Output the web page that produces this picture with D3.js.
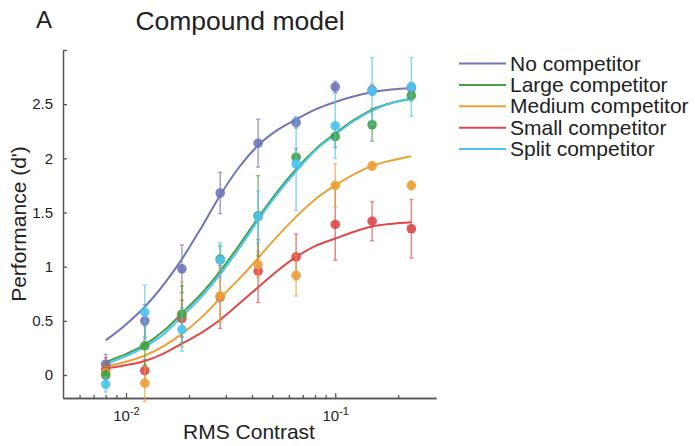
<!DOCTYPE html>
<html>
<head>
<meta charset="utf-8">
<script src="https://cdn.jsdelivr.net/npm/d3@7"></script>
<style>
  body { margin: 0; background: #fff; }
  svg text { font-family: "Liberation Sans", Arial, Helvetica, sans-serif; fill: #222; }
</style>
</head>
<body>
<svg id="chart" width="695" height="446"></svg>
<script>
// ---- data ----
const contrasts = [0.008, 0.0123, 0.0185, 0.0282, 0.0428, 0.065, 0.1, 0.15, 0.231];
const curveContrasts = [0.008, 0.0099, 0.0123, 0.0152, 0.0185, 0.0229, 0.0282, 0.0348, 0.0428,
                        0.0528, 0.065, 0.080, 0.1, 0.122, 0.15, 0.185, 0.231];

const seriesNames = ["No competitor", "Large competitor", "Medium competitor", "Small competitor", "Split competitor"];
const seriesColors = ["#7074b8", "#44a044", "#eba035", "#de4848", "#4ec3ef"];

// mean d' per contrast
const noMean     = [0.10, 0.50, 0.98, 1.68, 2.14, 2.33, 2.66, 2.63, 2.65];
const largeMean  = [0.00, 0.27, 0.56, 1.07, 1.47, 2.01, 2.20, 2.31, 2.58];
const mediumMean = [0.02, -0.075, 0.56, 0.73, 1.02, 0.92, 1.75, 1.93, 1.75];
const smallMean  = [0.05, 0.04, 0.52, 0.72, 0.96, 1.09, 1.39, 1.42, 1.35];
const splitMean  = [-0.086, 0.58, 0.42, 1.06, 1.46, 1.95, 2.30, 2.62, 2.66];

// error bar half lengths
const noErr     = [0.09, 0.15, 0.22, 0.19, 0.22, 0.05, 0.05, 0.05, 0.05];
const largeErr  = [0.10, 0.18, 0.26, 0.12, 0.37, 0.08, 0.10, 0.15, 0.05];
const mediumErr = [0.06, 0.17, 0.30, 0.24, 0.12, 0.19, 0.20, 0.04, 0.04];
const smallErr  = [0.11, 0.10, 0.17, 0.29, 0.29, 0.21, 0.33, 0.18, 0.27];
const splitErr  = [0.07, 0.25, 0.20, 0.16, 0.24, 0.43, 0.30, 0.31, 0.27];

// model fit curves
const noFit     = [0.32, 0.46, 0.63, 0.84, 1.07, 1.36, 1.66, 1.92, 2.12, 2.26, 2.36, 2.45, 2.52, 2.57, 2.61, 2.635, 2.65];
const largeFit  = [0.12, 0.19, 0.28, 0.41, 0.57, 0.75, 0.96, 1.20, 1.45, 1.69, 1.90, 2.08, 2.23, 2.35, 2.45, 2.51, 2.55];
const mediumFit = [0.08, 0.12, 0.18, 0.27, 0.38, 0.53, 0.71, 0.89, 1.08, 1.28, 1.46, 1.62, 1.75, 1.85, 1.93, 1.98, 2.02];
const smallFit  = [0.06, 0.09, 0.13, 0.20, 0.29, 0.39, 0.51, 0.66, 0.81, 0.96, 1.09, 1.19, 1.26, 1.32, 1.37, 1.395, 1.41];
const splitFit  = [0.10, 0.17, 0.26, 0.38, 0.54, 0.72, 0.93, 1.17, 1.43, 1.67, 1.88, 2.07, 2.22, 2.34, 2.44, 2.51, 2.55];

const yTicks = [0, 0.5, 1, 1.5, 2, 2.5, 3];
const xMajorTicks = [0.01, 0.1];
const xMinorTicks = [0.006, 0.007, 0.008, 0.009, 0.02, 0.03, 0.04, 0.05, 0.06, 0.07, 0.08, 0.09, 0.2];

const means = [noMean, largeMean, mediumMean, smallMean, splitMean];
const errs  = [noErr, largeErr, mediumErr, smallErr, splitErr];
const fits  = [noFit, largeFit, mediumFit, smallFit, splitFit];
const markerOrder = [0, 3, 2, 1, 4];   // which series lands on top where points overlap

// ---- drawing ----
const svg = d3.select("#chart");
const axisColor = "#555";

const x = d3.scaleLog().domain([0.005, 0.303]).range([63, 436]);
const y = d3.scaleLinear().domain([-0.212, 3]).range([398, 50]);

// titles
svg.append("text").attr("x", 36).attr("y", 28).attr("font-size", 24).text("A");
svg.append("text").attr("x", 240).attr("y", 30).attr("font-size", 26.5)
   .attr("text-anchor", "middle").text("Compound model");

// axes
const yAxis = svg.append("g").attr("transform", "translate(63,0)")
  .call(d3.axisLeft(y).tickValues(yTicks).tickSizeInner(-4).tickSizeOuter(0).tickPadding(10)
        .tickFormat(d => d === 3 ? "" : String(d)));
yAxis.selectAll("text").attr("font-size", 15);

const xMinor = svg.append("g").attr("transform", "translate(0,398)")
  .call(d3.axisBottom(x).tickValues(xMinorTicks).tickSizeInner(-3).tickSizeOuter(0).tickFormat(""));
const xAxis = svg.append("g").attr("transform", "translate(0,398)")
  .call(d3.axisBottom(x).tickValues(xMajorTicks).tickSizeInner(-5).tickSizeOuter(0).tickPadding(12)
        .tickFormat(""));
xAxis.selectAll(".tick text").each(function(d) {
  const t = d3.select(this).attr("font-size", 15).attr("text-anchor", "middle");
  t.append("tspan").text("10");
  t.append("tspan").attr("dy", -6).attr("font-size", 11).text(Math.round(Math.log10(d)));
});

[yAxis, xMinor, xAxis].forEach(g => {
  g.selectAll("path, line").attr("stroke", axisColor).attr("stroke-width", 1.3);
  g.select(".domain").attr("stroke-width", 1.5);
  g.selectAll("text").attr("fill", "#222");
});

svg.append("text").attr("x", 249).attr("y", 439).attr("font-size", 21)
   .attr("text-anchor", "middle").text("RMS Contrast");
svg.append("text").attr("transform", "translate(26,224) rotate(-90)").attr("font-size", 21)
   .attr("text-anchor", "middle").text("Performance (d')");

// fit curves
const line = d3.line().x((d, i) => x(curveContrasts[i])).y(d => y(d)).curve(d3.curveMonotoneX);
const curves = svg.append("g");
fits.forEach((f, s) => {
  curves.append("path").attr("d", line(f)).attr("fill", "none")
    .attr("stroke", seriesColors[s]).attr("stroke-width", 2);
});

// data points with error bars
markerOrder.forEach(s => {
  const g = svg.append("g");
  const col = seriesColors[s];
  means[s].forEach((v, i) => {
    const cx = x(contrasts[i]);
    const lo = y(v - errs[s][i]), hi = y(v + errs[s][i]);
    const eb = g.append("g").attr("stroke", col).attr("stroke-width", 1.5).attr("opacity", 0.65);
    eb.append("line").attr("x1", cx).attr("x2", cx).attr("y1", lo).attr("y2", hi);
    eb.append("line").attr("x1", cx - 2).attr("x2", cx + 2).attr("y1", lo).attr("y2", lo);
    eb.append("line").attr("x1", cx - 2).attr("x2", cx + 2).attr("y1", hi).attr("y2", hi);
    g.append("circle").attr("cx", cx).attr("cy", y(v)).attr("r", 4.8)
      .attr("fill", col).attr("opacity", 0.9);
  });
});

// legend
const legend = svg.append("g");
seriesNames.forEach((name, s) => {
  const ly = 63.5 + s * 21.4;
  legend.append("line").attr("x1", 459).attr("x2", 506).attr("y1", ly).attr("y2", ly)
    .attr("stroke", seriesColors[s]).attr("stroke-width", 2);
  legend.append("text").attr("x", 510).attr("y", ly + 7).attr("font-size", 21).text(name);
});
</script>
</body>
</html>
